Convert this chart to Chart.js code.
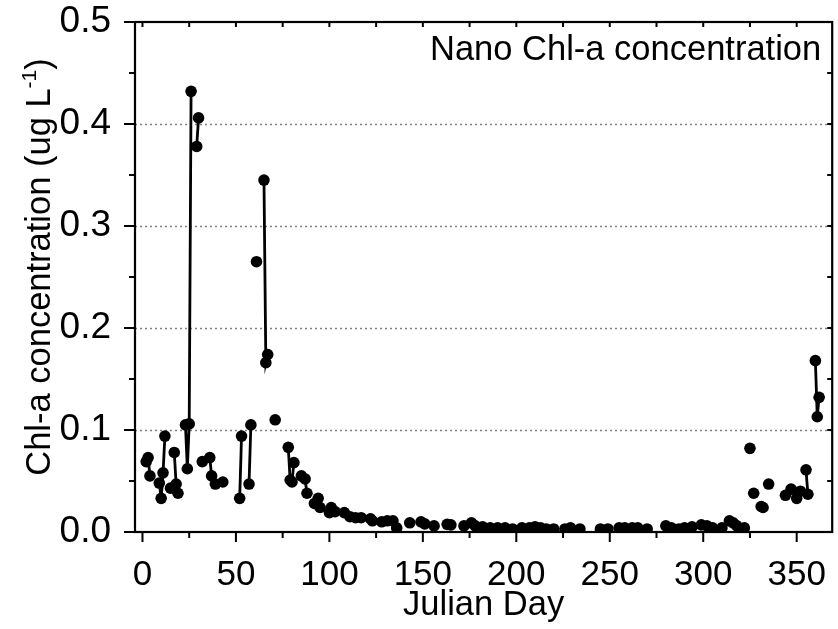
<!DOCTYPE html>
<html>
<head>
<meta charset="utf-8">
<script src="https://cdn.jsdelivr.net/npm/chart.js@4"></script>
<style>
  html, body { margin: 0; padding: 0; background: #fff; }
  #wrap { width: 838px; height: 629px; }
</style>
</head>
<body>
<div id="wrap"><canvas id="chart" width="838" height="629"></canvas></div>
<script>
// -------------------------------------------------------
// DATA
const julianDay = [2, 3, 4, 9, 10, 11, 12, 15, 17, 18, 19, 23, 24, 25, 26, 29, 30, 32, 36, 37, 39, 43,
  52, 53, 57, 58, 61, 65, 66, 67, 71, 78, 79, 80, 81, 85, 87, 88, 92, 94, 95, 100, 101, 103, 108,
  111, 114, 117, 122, 123, 128, 131, 134, 136, 143, 149, 151, 156, 163, 165, 172, 176, 178, 182,
  186, 190, 194, 198, 203, 207, 210, 213, 216, 220, 226, 229, 234, 245, 249, 255, 258, 262, 265,
  270, 280, 283, 287, 290, 294, 299, 302, 305, 310, 314, 316, 318, 322, 325, 327, 331, 332, 335,
  344, 347, 350, 352, 355, 356, 360, 361, 362];

const chlA = [0.069, 0.073, 0.055, 0.048, 0.033, 0.058, 0.094, 0.043, 0.078, 0.047, 0.038, 0.105,
  0.062, 0.106, 0.432, 0.378, 0.406, 0.069, 0.073, 0.055, 0.047, 0.049, 0.033, 0.094, 0.047, 0.105,
  0.265, 0.345, 0.166, 0.174, 0.110, 0.083, 0.051, 0.049, 0.068, 0.055, 0.052, 0.038, 0.028, 0.033,
  0.024, 0.019, 0.024, 0.020, 0.019, 0.015, 0.014, 0.014, 0.013, 0.011, 0.010, 0.011, 0.011, 0.004,
  0.009, 0.010, 0.008, 0.006, 0.0075, 0.007, 0.006, 0.009, 0.006, 0.005, 0.004, 0.004, 0.004, 0.003,
  0.004, 0.004, 0.005, 0.004, 0.003, 0.003, 0.003, 0.004, 0.003, 0.003, 0.003, 0.004, 0.004, 0.004,
  0.004, 0.003, 0.006, 0.004, 0.003, 0.004, 0.005, 0.007, 0.006, 0.004, 0.004, 0.011, 0.009, 0.006,
  0.004, 0.082, 0.038, 0.025, 0.024, 0.047, 0.036, 0.042, 0.033, 0.040, 0.061, 0.037, 0.168, 0.113,
  0.132];

// 1 = joined by a line to the previous sample (consecutive days)
const joinedToPrev = [0, 1, 1, 0, 1, 1, 1, 0, 0, 1, 1, 0, 1, 1, 1, 0, 1, 0, 0, 1, 0, 0,
  0, 1, 0, 1, 0, 0, 1, 1, 0, 0, 1, 1, 1, 0, 0, 1, 0, 0, 1, 0, 1, 0, 0,
  0, 0, 0, 0, 1, 0, 0, 0, 0, 0, 0, 0, 0, 0, 0, 0, 0, 0, 0,
  0, 0, 0, 0, 0, 0, 0, 0, 0, 0, 0, 0, 0, 0, 0, 0, 0, 0, 0,
  0, 0, 0, 0, 0, 0, 0, 0, 0, 0, 0, 0, 0, 0, 0, 0, 0, 1, 0,
  0, 0, 0, 0, 0, 1, 0, 1, 1];

const xLabelTicks = [0, 50, 100, 150, 200, 250, 300, 350];
const yLabelTicks = [0, 0.1, 0.2, 0.3, 0.4, 0.5];
const yGridLines = [0.1, 0.2, 0.3, 0.4];

const chartTitle = "Nano Chl-a concentration";
const xTitle = "Julian Day";
const yTitleMain = "Chl-a concentration (ug L";
const yTitleSup = "-1";
const yTitleEnd = ")";

const FONT = "'Liberation Sans', Arial, sans-serif";

// -------------------------------------------------------
// FRAME / TICKS / GRID PLUGIN
const framePlugin = {
  id: "frame",
  beforeDatasetsDraw(chart) {
    const { ctx, chartArea: a, scales } = chart;
    ctx.save();
    ctx.strokeStyle = "#808080";
    ctx.lineWidth = 1.3;
    ctx.setLineDash([2, 3]);
    yGridLines.forEach((v) => {
      const y = Math.round(scales.y.getPixelForValue(v)) + 0.5;
      ctx.beginPath();
      ctx.moveTo(a.left, y);
      ctx.lineTo(a.right, y);
      ctx.stroke();
    });
    ctx.restore();
  },
  afterDatasetsDraw(chart) {
    const { ctx, chartArea: a, scales } = chart;
    const x = scales.x, y = scales.y;
    ctx.save();
    ctx.strokeStyle = "#000";
    ctx.lineWidth = 2;

    // ticks
    ctx.beginPath();
    for (let d = 0; d <= 375; d += 25) {
      const px = x.getPixelForValue(d);
      if (px > a.right) break;
      const major = d % 50 === 0;
      ctx.moveTo(px, a.bottom);
      ctx.lineTo(px, a.bottom + (major ? 10 : 6));
      ctx.moveTo(px, a.top);
      ctx.lineTo(px, a.top + 5);
    }
    for (let i = 0; i <= 10; i++) {
      const v = i * 0.05;
      const py = y.getPixelForValue(v);
      const major = i % 2 === 0;
      ctx.moveTo(a.left, py);
      ctx.lineTo(a.left - (major ? 11 : 6), py);
      ctx.moveTo(a.right, py);
      ctx.lineTo(a.right - 5, py);
    }
    ctx.stroke();

    // frame
    ctx.lineWidth = 2.2;
    ctx.strokeRect(a.left, a.top, a.right - a.left, a.bottom - a.top);

    // title in the plot corner
    ctx.fillStyle = "#000";
    ctx.font = "34.5px " + FONT;
    ctx.textAlign = "right";
    ctx.textBaseline = "alphabetic";
    ctx.fillText(chartTitle, a.right - 11, a.top + 38);

    // y-axis title with superscript
    const big = "34.5px " + FONT, small = "21px " + FONT;
    ctx.font = big;
    const w1 = ctx.measureText(yTitleMain).width;
    const w3 = ctx.measureText(yTitleEnd).width;
    ctx.font = small;
    const w2 = ctx.measureText(yTitleSup).width;
    const total = w1 + w2 + w3;
    ctx.translate(50, (a.top + a.bottom) / 2 - 10);
    ctx.rotate(-Math.PI / 2);
    ctx.textAlign = "left";
    let cx = -total / 2;
    ctx.font = big;
    ctx.fillText(yTitleMain, cx, 0);
    cx += w1;
    ctx.font = small;
    ctx.fillText(yTitleSup, cx, -14);
    cx += w2;
    ctx.font = big;
    ctx.fillText(yTitleEnd, cx, 0);
    ctx.restore();
  },
};

// -------------------------------------------------------
// CHART
const points = julianDay.map((d, i) => ({ x: d, y: chlA[i] }));

new Chart(document.getElementById("chart"), {
  type: "line",
  data: {
    datasets: [{
      data: points,
      borderColor: "#000",
      borderWidth: 2.8,
      pointRadius: 5.8,
      pointHoverRadius: 5.8,
      pointBackgroundColor: "#000",
      pointBorderWidth: 0,
      fill: false,
      tension: 0,
      segment: {
        borderColor: (ctx) => (joinedToPrev[ctx.p1DataIndex] ? "#000" : "rgba(0,0,0,0)"),
      },
    }],
  },
  plugins: [framePlugin],
  options: {
    responsive: false,
    animation: false,
    events: [],
    layout: { padding: { top: 22, right: 4, left: 0, bottom: 0 } },
    plugins: { legend: { display: false }, tooltip: { enabled: false } },
    scales: {
      x: {
        type: "linear",
        min: -4,
        max: 369,
        grid: { display: false },
        border: { display: false },
        afterBuildTicks: (s) => { s.ticks = xLabelTicks.map((v) => ({ value: v })); },
        afterFit: (s) => {
          s.height = 97;
          s.paddingLeft = 0;
          s.paddingRight = 0;
        },
        ticks: {
          color: "#000",
          font: { family: FONT, size: 35 },
          padding: 14,
          maxRotation: 0,
          autoSkip: false,
        },
        title: {
          display: true,
          text: xTitle,
          color: "#000",
          font: { family: FONT, size: 34.5 },
          padding: { top: 0, bottom: 3 },
        },
      },
      y: {
        min: 0,
        max: 0.5,
        grid: { display: false },
        border: { display: false },
        afterBuildTicks: (s) => { s.ticks = yLabelTicks.map((v) => ({ value: v })); },
        afterFit: (s) => {
          s.width = 135;
          s.paddingTop = 0;
          s.paddingBottom = 0;
        },
        ticks: {
          color: "#000",
          font: { family: FONT, size: 37 },
          padding: 16,
          callback: (v) => Number(v).toFixed(1),
        },
      },
    },
  },
});
</script>
</body>
</html>
